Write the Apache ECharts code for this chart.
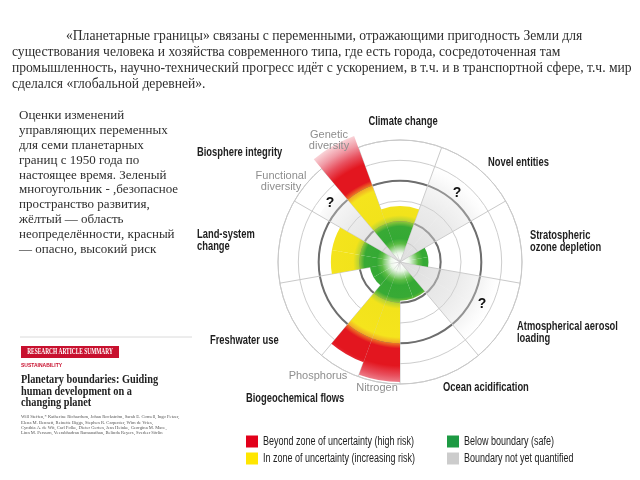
<!DOCTYPE html>
<html>
<head>
<meta charset="utf-8">
<script src="https://cdn.jsdelivr.net/npm/echarts@6/dist/echarts.min.js"></script>
<style>
  html, body { margin: 0; padding: 0; background: #fff; }
  #chart { width: 640px; height: 480px; }
</style>
</head>
<body>
<div id="chart"></div>
<script>
// planetary boundaries, clockwise from 340 deg; each half-wedge is 20 deg
const boundaries = ['Climate change', 'Novel entities', 'Stratospheric ozone depletion', 'Atmospherical aerosol loading',
  'Ocean acidification', 'Nitrogen', 'Phosphorus', 'Freshwater use', 'Land-system change', 'Functional diversity', 'Genetic diversity'];
const halfWedges = [2, 2, 2, 2, 2, 1, 1, 2, 2, 1, 1];
// control variable in ring units (safe boundary = 2, end of uncertainty zone = 4)
const status = [2.75, 0, 1.4, 0, 1.9, 5.9, 5.25, 1.5, 3.4, 0, 6.6];
const notQuantified = [0, 5, 0, 5, 0, 0, 0, 0, 0, 4.6, 0];
const safeLimit = 2;
const riskLimit = 4;
const ringTicks = [0, 1, 2, 3, 4, 5, 6];

const legendNames = ['Beyond zone of uncertainty (high risk)', 'In zone of uncertainty (increasing risk)',
  'Below boundary (safe)', 'Boundary not yet quantified'];

const paragraph = [
  '«Планетарные границы» связаны с переменными, отражающими пригодность Земли для',
  'существования человека и хозяйства современного типа, где есть города, сосредоточенная там',
  'промышленность, научно-технический прогресс идёт с ускорением, в т.ч. и в транспортной сфере, т.ч. мир',
  'сделался «глобальной деревней».'
];
const note = [
  'Оценки изменений', 'управляющих переменных', 'для семи планетарных', 'границ с 1950 года по',
  'настоящее время. Зеленый', 'многоугольник - ,безопасное', 'пространство развития,',
  'жёлтый — область', 'неопределённости, красный', '— опасно, высокий риск'
];
const paperTitle = ['Planetary boundaries: Guiding', 'human development on a', 'changing planet'];
const paperAuthors = [
  'Will Steffen,* Katherine Richardson, Johan Rockström, Sarah E. Cornell, Ingo Fetzer,',
  'Elena M. Bennett, Reinette Biggs, Stephen R. Carpenter, Wim de Vries,',
  'Cynthia A. de Wit, Carl Folke, Dieter Gerten, Jens Heinke, Georgina M. Mace,',
  'Linn M. Persson, Veerabhadran Ramanathan, Belinda Reyers, Sverker Sörlin'
];

// expand boundaries to the 18 half-wedges
const cats = [], vals = [], grey = [];
boundaries.forEach((b, i) => {
  for (let k = 0; k < halfWedges[i]; k++) {
    cats.push(b + '#' + k);
    vals.push(status[i]);
    grey.push(notQuantified[i]);
  }
});
const green = vals.map(v => Math.min(v, safeLimit));
const yellow = vals.map(v => Math.max(0, Math.min(v, riskLimit) - safeLimit));
const red = vals.map(v => Math.max(0, v - riskLimit));

const cx = 400, cy = 262, R = 122, rMax = 6;
const unit = R / rMax;
function radial(stops) {
  return new echarts.graphic.RadialGradient(cx, cy, unit * 7,
    stops.map(s => ({ offset: s[0] / 7, color: s[1] })), true);
}
const greenFill = radial([[0, 'rgba(255,255,255,0)'], [0.45, 'rgba(232,245,229,0.9)'], [0.9, '#5cbc45'],
  [1.15, '#34a934'], [1.75, '#38aa35'], [2.05, '#a4cd3a']]);
const yellowFill = radial([[1.95, '#a8cf3a'], [2.3, '#f2e31b'], [3.7, '#f5e41d'], [4.05, '#f09a28']]);
const redFill = radial([[3.95, '#f08a24'], [4.25, '#e3161f'], [5.1, '#e3161f'], [5.6, '#e8505e'],
  [6.1, '#f09aa5'], [6.7, '#fbe0e3']]);
const greyFill = radial([[0, 'rgba(195,195,195,0.55)'], [1, 'rgba(200,200,200,0.55)'], [3, 'rgba(212,212,212,0.45)'],
  [4.2, 'rgba(225,225,225,0.3)'], [5, 'rgba(240,240,240,0)']]);

// spokes only between boundaries (and between the two halves of split ones)
const spokeColors = cats.map((c, i) => (i === 0 || c.endsWith('#0')) ? '#c9c9c9' : 'rgba(0,0,0,0)');
const thickRingColors = ringTicks.map(t => (t === safeLimit || t === riskLimit) ? '#6e6e6e' : 'rgba(0,0,0,0)');

const sans = '"Liberation Sans", Arial, sans-serif';
const serif = '"Liberation Serif", "Times New Roman", serif';

function txt(text, x, y, o) {
  return {
    type: 'text', x: x, y: y, scaleX: o.sx || 1, z: 20,
    style: {
      text: text, fill: o.fill || '#1e1e1e', fontFamily: o.family || sans, fontSize: o.size || 12,
      fontWeight: o.weight || 'normal', align: o.align || 'left', verticalAlign: 'middle',
      lineHeight: o.lh || (o.size || 12)
    }
  };
}

const graphics = [];
// top paragraph
paragraph.forEach((line, i) => {
  graphics.push(txt(line, i === 0 ? 66 : 12, 36 + i * 16, { family: serif, size: 13.6, fill: '#2e2e2e' }));
});
// left note
note.forEach((line, i) => {
  graphics.push(txt(line, 19, 116 + i * 14.8, { family: serif, size: 13, fill: '#2e2e2e' }));
});
// chart labels
const bold = { weight: 'bold', sx: 0.78, size: 12, lh: 12 };
[
  ['Climate change', 403, 122, 'center'], ['Biosphere integrity', 197, 153], ['Novel entities', 488, 163],
  ['Stratospheric\nozone depletion', 530, 242], ['Land-system\nchange', 197, 241],
  ['Atmospherical aerosol\nloading', 517, 333], ['Freshwater use', 210, 341],
  ['Ocean acidification', 443, 388], ['Biogeochemical flows', 246, 399]
].forEach(l => graphics.push(txt(l[0], l[1], l[2], Object.assign({ align: l[3] || 'left' }, bold))));
[
  ['Genetic\ndiversity', 329, 140], ['Functional\ndiversity', 281, 181], ['Phosphorus', 318, 376], ['Nitrogen', 377, 388]
].forEach(l => graphics.push(txt(l[0], l[1], l[2], { align: 'center', size: 11, lh: 11, fill: '#8e8e8e' })));
[[330, 203], [457, 193], [482, 304]].forEach(p =>
  graphics.push(txt('?', p[0], p[1], { align: 'center', size: 14, weight: 'bold', fill: '#111' })));

// legend
const legendColors = ['#e2001a', '#ffe600', '#1d9a43', '#cccccc'];
const legendPos = [[246, 442], [246, 459], [447, 442], [447, 459]];
legendNames.forEach((n, i) => {
  graphics.push({ type: 'rect', z: 20, shape: { x: legendPos[i][0], y: legendPos[i][1] - 6.5, width: 12, height: 12 },
    style: { fill: legendColors[i] } });
  graphics.push(txt(n, legendPos[i][0] + 17, legendPos[i][1], { size: 12, sx: 0.75, fill: '#222' }));
});

// article snapshot
graphics.push({ type: 'line', z: 20, shape: { x1: 20, y1: 337, x2: 192, y2: 337 }, style: { stroke: '#dadada', lineWidth: 1 } });
graphics.push({ type: 'rect', z: 20, shape: { x: 21, y: 346, width: 98, height: 12 }, style: { fill: '#c8102e' } });
graphics.push(txt('RESEARCH ARTICLE SUMMARY', 70, 352, { align: 'center', family: serif, size: 7.5, weight: 'bold', sx: 0.72, fill: '#fff' }));
graphics.push(txt('SUSTAINABILITY', 21, 366, { family: sans, size: 5, weight: 'bold', fill: '#c8102e' }));
paperTitle.forEach((line, i) => {
  graphics.push(txt(line, 21, 380 + i * 11.5, { family: serif, size: 12, weight: 'bold', sx: 0.86, fill: '#222' }));
});
paperAuthors.forEach((line, i) => {
  graphics.push(txt(line, 21, 417 + i * 5.3, { family: serif, size: 4.6, fill: '#555' }));
});

const chart = echarts.init(document.getElementById('chart'));
chart.setOption({
  animation: false,
  backgroundColor: '#fff',
  polar: [
    { center: [cx, cy], radius: R },
    { center: [cx, cy], radius: R }
  ],
  angleAxis: [
    {
      polarIndex: 0, type: 'category', data: cats, startAngle: 110, clockwise: true, boundaryGap: true,
      axisLine: { show: true, lineStyle: { color: '#c9c9c9', width: 1 } },
      axisTick: { show: false }, axisLabel: { show: false },
      splitLine: { show: true, lineStyle: { color: spokeColors, width: 1 } }
    },
    {
      polarIndex: 1, type: 'value', min: 0, max: 360,
      axisLine: { show: false }, axisTick: { show: false }, axisLabel: { show: false }, splitLine: { show: false }
    }
  ],
  radiusAxis: [
    {
      polarIndex: 0, type: 'value', min: 0, max: rMax, interval: 1,
      axisLine: { show: false }, axisTick: { show: false }, axisLabel: { show: false },
      splitLine: { show: true, lineStyle: { color: '#cdcdcd', width: 1 } }
    },
    {
      polarIndex: 1, type: 'value', min: 0, max: rMax, interval: 1,
      axisLine: { show: false }, axisTick: { show: false }, axisLabel: { show: false },
      splitLine: { show: true, lineStyle: { color: thickRingColors, width: 2 } }
    }
  ],
  series: [
    { name: legendNames[2], type: 'bar', coordinateSystem: 'polar', polarIndex: 0, stack: 'pb', data: green,
      barCategoryGap: '0%', clip: false, itemStyle: { color: greenFill } },
    { name: legendNames[1], type: 'bar', coordinateSystem: 'polar', polarIndex: 0, stack: 'pb', data: yellow,
      clip: false, itemStyle: { color: yellowFill } },
    { name: legendNames[0], type: 'bar', coordinateSystem: 'polar', polarIndex: 0, stack: 'pb', data: red,
      clip: false, itemStyle: { color: redFill } },
    { name: legendNames[3], type: 'bar', coordinateSystem: 'polar', polarIndex: 0, stack: 'pb', data: grey,
      clip: false, itemStyle: { color: greyFill } }
  ],
  graphic: graphics
});
</script>
</body>
</html>
